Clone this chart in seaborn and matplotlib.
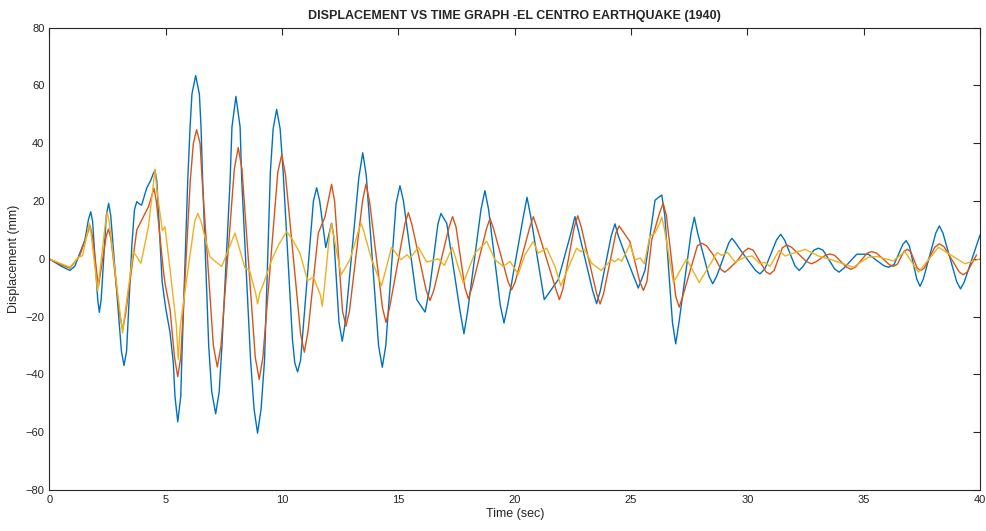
import numpy as np
import pandas as pd
import matplotlib
matplotlib.use("Agg")
import matplotlib.pyplot as plt
import seaborn as sns

# --- Dane (czas [s], przemieszczenie [mm]) ---
t_blue = [0, 0.5, 0.89, 1.1, 1.26, 1.53, 1.68, 1.78, 1.86, 2.0, 2.08, 2.15, 2.23, 2.45,
          2.55, 2.64, 3.0, 3.1, 3.21, 3.32, 3.55, 3.66, 3.76, 3.87, 3.97, 4.18, 4.35,
          4.47, 4.54, 4.62, 4.85, 5.0, 5.19, 5.33, 5.40, 5.52, 5.65, 5.69, 5.95, 6.05,
          6.13, 6.29, 6.45, 6.52, 6.59, 6.85, 6.98, 7.15, 7.30, 7.42, 7.77, 7.85, 8.02,
          8.2, 8.27, 8.65, 8.8, 8.95, 9.1, 9.25, 9.5, 9.62, 9.77, 9.92, 10.05, 10.45,
          10.55, 10.67, 10.8, 11.2, 11.35, 11.49, 11.62, 11.88, 12.13, 12.22, 12.45,
          12.59, 12.72, 13.3, 13.47, 13.62, 14.15, 14.31, 14.46, 14.9, 15.07, 15.22,
          15.79, 16.15, 16.35, 16.7, 16.83, 17.08, 17.65, 17.82, 17.98, 18.55, 18.72,
          18.88, 19.38, 19.54, 19.7, 20.38, 20.53, 20.68, 21.27, 21.87, 22.42, 22.59,
          22.76, 23.35, 23.52, 23.68, 24.15, 24.31, 24.45, 24.81, 25.31, 25.6, 25.81,
          26.03, 26.32, 26.45, 26.78, 26.92, 27.06, 27.58, 27.72, 27.86, 28.35, 28.51,
          28.68, 29.2, 29.33, 29.45, 29.75, 30.35, 30.54, 30.75, 31.25, 31.43, 31.6,
          32.05, 32.23, 32.4, 32.85, 33.05, 33.25, 33.75, 33.94, 34.15, 34.7, 35.2,
          35.85, 36.06, 36.3, 36.68, 36.82, 36.96, 37.28, 37.42, 37.56, 38.1, 38.25,
          38.4, 39.0, 39.16, 39.32, 40]
v_blue = [0, -2.5, -4, -2.5, 0.9, 6.5, 13.5, 16.3, 13, -4, -14, -18.5, -14, 15,
          19.2, 15, -22, -32, -36.9, -32, 5, 17, 19.8, 19, 18.6, 24.4, 27,
          29.5, 30.7, 27, -8, -17, -25.5, -36, -47.5, -56.4, -47.5, -36, 27.2, 45.6,
          57, 63.4, 57, 45.6, 27.2, -30, -46, -53.6, -46, -30, 27.2, 45.6, 56.2,
          45.6, 27.2, -35, -52, -60.3, -52, -35, 30, 45, 51.7, 45, 30, -28,
          -36, -39.1, -35, 5, 20, 24.6, 20, 3.9, 12.3, 8, -22,
          -28.5, -22, 28, 36.7, 29, -30, -37.5, -30, 19, 25.3, 20,
          -14.1, -18.4, -10, 12, 15.7, 12.3, -18, -25.9, -18, 17, 23.6,
          17, -16, -22.2, -16, 15, 21.3, 15, -14.1, -7.2, 9, 14.6,
          9, -11, -15.5, -11, 8, 12.1, 8, 0.2, -10.1, -4, 7.7,
          20.3, 22.1, 15, -22, -29.4, -22, 9, 14.4, 9, -6, -8.6,
          -6, 5.5, 7.1, 6, 2.5, -4, -5.2, -3.5, 6.5, 8.5, 6.5,
          -2.5, -4, -2.5, 3, 3.7, 3, -3.5, -4.6, -3.2, 1.6, 1.6,
          -2.3, -2.9, -2, 5, 6.3, 4.5, -7, -9.5, -7, 9, 11.4,
          9, -8, -10.4, -8, 8.3]

t_red = [0, 0.5, 0.89, 1.3, 1.65, 1.75, 1.85, 2.11, 2.45, 2.54, 2.65, 3.02, 3.15, 3.28,
         3.76, 3.97, 4.26, 4.5, 4.6, 4.9, 4.97, 5.19, 5.38, 5.52, 5.65, 6.06, 6.19, 6.33,
         6.48, 6.57, 7.05, 7.22, 7.38, 7.95, 8.12, 8.28, 8.85, 9.02, 9.18, 9.82, 9.99,
         10.15, 10.8, 10.96, 11.12, 11.56, 11.85, 12.13, 12.26, 12.6, 12.75, 12.9, 13.46,
         13.61, 13.76, 14.32, 14.47, 14.62, 15.28, 15.43, 15.58, 16.2, 16.36, 16.52,
         17.18, 17.33, 17.48, 17.86, 18.01, 18.16, 18.79, 18.94, 19.09, 19.72, 19.87,
         20.02, 20.65, 20.8, 20.95, 21.77, 21.92, 22.07, 22.56, 22.71, 22.86, 23.52,
         23.67, 23.82, 24.35, 24.49, 24.95, 25.38, 25.53, 25.68, 25.89, 26.23, 26.38,
         26.52, 26.92, 27.07, 27.22, 27.85, 28.04, 28.25, 28.53, 28.88, 29.03, 29.2,
         29.54, 29.85, 30.04, 30.25, 30.8, 30.97, 31.15, 31.5, 31.69, 31.9, 32.55,
         32.76, 32.95, 33.35, 33.55, 33.75, 34.25, 34.45, 34.65, 35.15, 35.34, 35.55,
         36.1, 36.27, 36.45, 36.72, 36.87, 37.02, 37.3, 37.45, 37.6, 38.05, 38.25,
         38.45, 39.1, 39.28, 39.45, 39.85]
v_red = [0, -2, -3.2, 1, 9, 11.5, 8, -9.5, 8, 10.3, 7, -19, -24.5, -19,
         10, 13.4, 18, 24.4, 20, -3.8, -8.4, -17.6, -34, -40.8, -34, 27.2, 39.9, 44.7,
         39.9, 27.2, -30, -37.4, -30, 31, 38.5, 31, -34, -41.7, -34, 30, 36.1,
         29, -26, -32.3, -25, 8.9, 14.6, 25.8, 20, -18, -23.3, -18, 20,
         25.9, 20, -17, -22, -17, 12, 16, 12, -11, -14.4, -11,
         11, 14.6, 11, -10, -13.8, -10, 10.5, 14, 10.5, -8, -10.7,
         -8, 11, 14.6, 11, -10.5, -14.1, -10.5, 11, 14.9, 11, -12,
         -15.6, -12, 9, 11.4, 6, -8, -10.9, -8, 6.6, 16, 19.2,
         15, -13, -16.7, -13, 4.5, 5.4, 4.5, 1.4, -3.8, -4.6, -3.5,
         -0.9, 2.5, 3.7, 3, -4.5, -5.3, -4, 3.8, 4.8, 4, -1,
         -1.7, -1, 1.2, 1.7, 1.2, -2.8, -3.6, -2.8, 2, 2.5, 2,
         -2, -2.6, -1.8, 2.5, 3.3, 2.5, -3.2, -4, -3.2, 4, 5.2,
         4.2, -4.5, -5.5, -4.5, 1.4]

t_yel = [0, 0.89, 1.26, 1.43, 1.66, 1.72, 1.79, 2.08, 2.42, 2.49, 2.57, 3.06, 3.15, 3.25,
         3.61, 3.94, 4.26, 4.46, 4.54, 4.62, 4.86, 4.97, 5.19, 5.46, 5.54, 5.63, 6.25,
         6.38, 6.52, 6.9, 7.1, 7.41, 7.98, 8.41, 8.6, 8.87, 8.95, 9.04, 9.24, 9.56, 9.85,
         10.2, 10.42, 10.77, 11.1, 11.35, 11.65, 11.73, 11.82, 12.05, 12.13, 12.22,
         12.54, 12.92, 13.3, 13.4, 13.5, 13.85, 14.28, 14.71, 15.1, 15.38, 15.5, 15.86,
         16.22, 16.72, 16.98, 17.32, 17.79, 18.29, 18.8, 19.15, 19.51, 19.8, 20.15,
         20.44, 20.8, 21.01, 21.37, 21.73, 21.98, 22.66, 22.85, 22.99, 23.31, 23.71,
         24.17, 24.3, 24.45, 24.6, 24.95, 25.17, 25.4, 25.57, 25.81, 26.03, 26.24,
         26.32, 26.42, 26.82, 27.39, 27.93, 28.7, 28.9, 29.15, 29.47, 29.9, 30.2, 30.54,
         30.75, 30.97, 31.36, 31.62, 32.48, 33.05, 33.62, 34.55, 35.2, 35.56, 36.27,
         36.77, 37.35, 38.21, 39.35, 40]
v_yel = [0, -2.9, 0.6, 1.1, 10, 12.3, 9, -11, 13, 16.1, 13, -20, -25.6, -19,
         2.5, -1.5, 11.1, 25, 31, 24, 9.8, 11.1, -3.8, -23, -34.8, -23, 13,
         15.7, 13, 0.8, -0.7, -2.6, 8.9, -3.2, -3.8, -12, -15.6, -12, -7.8, -0.3, 4.8,
         9.4, 7.1, 2, -7.5, -6.3, -12.5, -16.4, -10, 9, 12.1, 8,
         -5.5, -0.3, 10, 12.3, 10, -0.3, -9.3, 4, -0.3, 1.4, 0.2, 4,
         -1.1, 0, -2.3, 4, -8.4, 2, 6, -0.3, -2.6, -0.9, -5.3,
         1.4, 6, 2, 3.7, -2.6, -9.3, 3.7, 2.5, 3.4, -1.5, -4,
         -0.3, -1, 0, -0.8, 5, -0.3, 0.3, -1.7, 7.9, 8.9, 12.5,
         14.4, 11, -8.2, 0, -8.2, 2.2, 1.2, 2.2, -1.1, 0.6, 1, -1.7,
         -1.2, -2.6, 2.9, 1, 3.3, 1, -0.3, -2.9, 0.6, 0.8, -0.7,
         2.5, -4.6, 4, -1.7, 0]

x_ticks = [0, 5, 10, 15, 20, 25, 30, 35, 40]
y_ticks = [-80, -60, -40, -20, 0, 20, 40, 60, 80]

sns.set_style("white")
plt.rcParams['font.family'] = ['Liberation Sans', 'DejaVu Sans']

fig = plt.figure(figsize=(9.86, 5.31), dpi=100)
ax = fig.add_axes([0.05, 0.077, 0.944, 0.871])

sns.lineplot(x=t_blue, y=v_blue, ax=ax, color='#0072BD', linewidth=1.0)
sns.lineplot(x=t_red, y=v_red, ax=ax, color='#D95319', linewidth=1.0)
sns.lineplot(x=t_yel, y=v_yel, ax=ax, color='#EDB120', linewidth=1.0)

ax.set_xlim(0, 40)
ax.set_ylim(-80, 80)
ax.set_xticks(x_ticks)
ax.set_yticks(y_ticks)
ax.tick_params(direction='in', length=5, width=0.8, colors='#262626', labelsize=8,
               top=True, right=True, labelcolor='#262626')
for s in ax.spines.values():
    s.set_color('#262626')
    s.set_linewidth(0.8)

ax.set_title('DISPLACEMENT VS TIME GRAPH -EL CENTRO EARTHQUAKE (1940)',
             fontsize=9, fontweight='bold', pad=6)
ax.set_xlabel('Time (sec)', fontsize=9, color='#262626', labelpad=2)
ax.set_ylabel('Displacement (mm)', fontsize=9, color='#262626', labelpad=4)

plt.savefig('out.png', dpi=100)
plt.close()
